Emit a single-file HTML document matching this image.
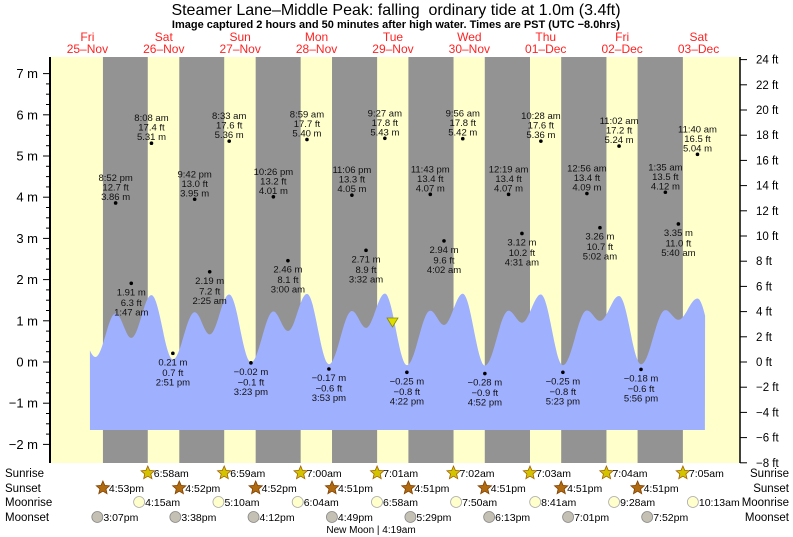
<!DOCTYPE html>
<html><head><meta charset="utf-8"><style>
body{margin:0;background:#fff;}
svg{display:block;font-family:"Liberation Sans",sans-serif;}
</style></head><body>
<svg id="s" width="793" height="537" xmlns="http://www.w3.org/2000/svg"></svg>
<script>
const S=document.getElementById('s');
let h='';
const X=t=>49.2+t*3.183;
const YM=m=>362-41.2*m;
const YC=m=>362-12.6*m;
h+='<rect x="50" y="57" width="690" height="406" fill="#ffffcc"/>';
const sunset=[16.88,40.87,64.87,88.85,112.85,136.85,160.85,184.85];
const sunrise=[30.97,54.98,79.0,103.02,127.03,151.05,175.07,199.08];
for(let i=0;i<8;i++){h+=`<rect x="${X(sunset[i])}" y="57" width="${X(sunrise[i])-X(sunset[i])}" height="406" fill="#939393"/>`;}
const T=[[14.5,0.4],[20.87,3.86],[25.78,1.91],[32.13,5.31],[38.85,0.21],[45.7,3.95],[50.42,2.19],[56.55,5.36],[63.38,-0.02],[70.43,4.01],[75,2.46],[80.98,5.40],[87.88,-0.17],[95.1,4.05],[99.53,2.71],[105.45,5.43],[112.37,-0.25],[119.72,4.07],[124.03,2.94],[129.93,5.42],[136.87,-0.28],[144.32,4.07],[148.52,3.12],[154.47,5.36],[161.38,-0.25],[168.93,4.09],[173.03,3.26],[179.03,5.24],[185.93,-0.18],[193.58,4.12],[197.67,3.35],[203.67,5.04],[210.5,0.0]];
function val(t){
 if(t<T[0][0]){let a=[8.2,3.5],b=T[0];let f=(t-a[0])/(b[0]-a[0]);return a[1]+(b[1]-a[1])*(1-Math.cos(Math.PI*f))/2;}
 for(let i=0;i<T.length-1;i++){let a=T[i],b=T[i+1];if(t<=b[0]){let f=(t-a[0])/(b[0]-a[0]);return a[1]+(b[1]-a[1])*(1-Math.cos(Math.PI*f))/2;}}
 return 0;}
let p=`${X(12.8)},430 `;
for(let t=12.8;t<=206.05;t+=0.25)p+=`${X(t).toFixed(1)},${YC(val(t)).toFixed(1)} `;
p+=`${X(206)},430`;
h+=`<polygon points="${p}" fill="#9fb0ff"/>`;
const L=[[20.87,3.86,'8:52 pm','12.7 ft',1],[25.78,1.91,'1:47 am','6.3 ft',0],[32.13,5.31,'8:08 am','17.4 ft',1],[38.85,0.21,'2:51 pm','0.7 ft',0],[45.7,3.95,'9:42 pm','13.0 ft',1],[50.42,2.19,'2:25 am','7.2 ft',0],[56.55,5.36,'8:33 am','17.6 ft',1],[63.38,-0.02,'3:23 pm','\u22120.1 ft',0],[70.43,4.01,'10:26 pm','13.2 ft',1],[75,2.46,'3:00 am','8.1 ft',0],[80.98,5.40,'8:59 am','17.7 ft',1],[87.88,-0.17,'3:53 pm','\u22120.6 ft',0],[95.1,4.05,'11:06 pm','13.3 ft',1],[99.53,2.71,'3:32 am','8.9 ft',0],[105.45,5.43,'9:27 am','17.8 ft',1],[112.37,-0.25,'4:22 pm','\u22120.8 ft',0],[119.72,4.07,'11:43 pm','13.4 ft',1],[124.03,2.94,'4:02 am','9.6 ft',0],[129.93,5.42,'9:56 am','17.8 ft',1],[136.87,-0.28,'4:52 pm','\u22120.9 ft',0],[144.32,4.07,'12:19 am','13.4 ft',1],[148.52,3.12,'4:31 am','10.2 ft',0],[154.47,5.36,'10:28 am','17.6 ft',1],[161.38,-0.25,'5:23 pm','\u22120.8 ft',0],[168.93,4.09,'12:56 am','13.4 ft',1],[173.03,3.26,'5:02 am','10.7 ft',0],[179.03,5.24,'11:02 am','17.2 ft',1],[185.93,-0.18,'5:56 pm','\u22120.6 ft',0],[193.58,4.12,'1:35 am','13.5 ft',1],[197.67,3.35,'5:40 am','11.0 ft',0],[203.67,5.04,'11:40 am','16.5 ft',1]];
const fm=v=>(v<0?'\u2212':'')+Math.abs(v).toFixed(2)+' m';
for(const l of L){const x=X(l[0]),y=YM(l[1]);
 h+=`<circle cx="${x}" cy="${y}" r="1.8" fill="#000"/>`;
 const a=`text-anchor="middle" font-size="9.5" fill="#111"`;
 if(l[4]){h+=`<text x="${x}" y="${y-22}" ${a}>${l[2]}</text><text x="${x}" y="${y-12.5}" ${a}>${l[3]}</text><text x="${x}" y="${y-3}" ${a}>${fm(l[1])}</text>`;}
 else{h+=`<text x="${x}" y="${y+12}" ${a}>${fm(l[1])}</text><text x="${x}" y="${y+22.5}" ${a}>${l[3]}</text><text x="${x}" y="${y+32}" ${a}>${l[2]}</text>`;}
}
h+=`<polygon points="387,318 398,318 392.5,327" fill="#dddd00" stroke="#888800" stroke-width="0.8"/>`;
h+='<line x1="50" y1="57" x2="50" y2="463" stroke="#000" stroke-width="2"/>';
h+='<line x1="740" y1="57" x2="740" y2="463" stroke="#000" stroke-width="1.5"/>';
for(let m=-2;m<=7;m++){const y=YM(m);h+=`<line x1="43" y1="${y}" x2="50" y2="${y}" stroke="#000"/><text x="38" y="${y+4.5}" text-anchor="end" font-size="13" fill="#000">${m<0?'\u2212'+(-m):m} m</text>`;}
for(let m=-2;m<7.2;m+=0.25){if(Math.abs(m-Math.round(m))<0.01)continue;const y=YM(m);if(y<57)continue;h+=`<line x1="46" y1="${y}" x2="50" y2="${y}" stroke="#000"/>`;}
for(let f=-8;f<=24;f+=2){const y=362-12.6*f;h+=`<line x1="740" y1="${y}" x2="747" y2="${y}" stroke="#000"/><text x="756" y="${y+4}" font-size="11.5" fill="#000">${f<0?'\u2212'+(-f):f} ft</text>`;}
h+='<text x="396" y="15" text-anchor="middle" font-size="16" fill="#000" white-space="pre" style="white-space:pre">Steamer Lane\u2013Middle Peak: falling  ordinary tide at 1.0m (3.4ft)</text>';
h+='<text x="396" y="28" text-anchor="middle" font-size="11" font-weight="bold" fill="#000">Image captured 2 hours and 50 minutes after high water. Times are PST (UTC \u22128.0hrs)</text>';
const D=[['Fri','25\u2013Nov'],['Sat','26\u2013Nov'],['Sun','27\u2013Nov'],['Mon','28\u2013Nov'],['Tue','29\u2013Nov'],['Wed','30\u2013Nov'],['Thu','01\u2013Dec'],['Fri','02\u2013Dec'],['Sat','03\u2013Dec']];
D.forEach((d,i)=>{const x=X(12+24*i);h+=`<text x="${x}" y="41" text-anchor="middle" font-size="12" fill="#ff2222">${d[0]}</text><text x="${x}" y="53" text-anchor="middle" font-size="12" fill="#ff2222">${d[1]}</text>`;});
const rows=[['Sunrise',477],['Sunset',492],['Moonrise',506],['Moonset',521]];
rows.forEach(r=>{h+=`<text x="5" y="${r[1]}" font-size="11.5" fill="#000">${r[0]}</text><text x="789" y="${r[1]}" text-anchor="end" font-size="11.5" fill="#000">${r[0]}</text>`;});
function star(x,y,fill,stroke){let pts='';for(let k=0;k<10;k++){const r=k%2?3.2:7,a=-Math.PI/2+k*Math.PI/5;pts+=`${(x+r*Math.cos(a)).toFixed(1)},${(y+r*Math.sin(a)).toFixed(1)} `;}return `<polygon points="${pts}" fill="${fill}" stroke="${stroke}" stroke-width="0.8"/>`;}
const sr=['6:58am','6:59am','7:00am','7:01am','7:02am','7:03am','7:04am','7:05am'];
sunrise.forEach((t,i)=>{const x=X(t);h+=star(x,473,'#d4c400','#a06000')+`<text x="${x+6}" y="477" font-size="10.5" fill="#000">${sr[i]}</text>`;});
const ss=['4:53pm','4:52pm','4:52pm','4:51pm','4:51pm','4:51pm','4:51pm','4:51pm'];
sunset.forEach((t,i)=>{const x=X(t);h+=star(x,488,'#b06a10','#804000')+`<text x="${x+6}" y="492" font-size="10.5" fill="#000">${ss[i]}</text>`;});
const mr=[[28.25,'4:15am'],[53.17,'5:10am'],[78.07,'6:04am'],[102.97,'6:58am'],[127.83,'7:50am'],[152.68,'8:41am'],[177.47,'9:28am'],[202.22,'10:13am']];
mr.forEach(m=>{const x=X(m[0]);h+=`<circle cx="${x}" cy="502" r="5.5" fill="#ffffcc" stroke="#aaa" stroke-width="0.8"/><text x="${x+6}" y="506" font-size="10.5" fill="#000">${m[1]}</text>`;});
const ms=[[15.12,'3:07pm'],[39.63,'3:38pm'],[64.2,'4:12pm'],[88.82,'4:49pm'],[113.48,'5:29pm'],[138.22,'6:13pm'],[163.02,'7:01pm'],[187.87,'7:52pm']];
ms.forEach(m=>{const x=X(m[0]);h+=`<circle cx="${x}" cy="517" r="5.5" fill="#c4c0b4" stroke="#888" stroke-width="0.8"/><text x="${x+6}" y="521" font-size="10.5" fill="#000">${m[1]}</text>`;});
h+='<text x="371" y="533" text-anchor="middle" font-size="10" fill="#000">New Moon | 4:19am</text>';
S.innerHTML=h;
</script>
</body></html>
